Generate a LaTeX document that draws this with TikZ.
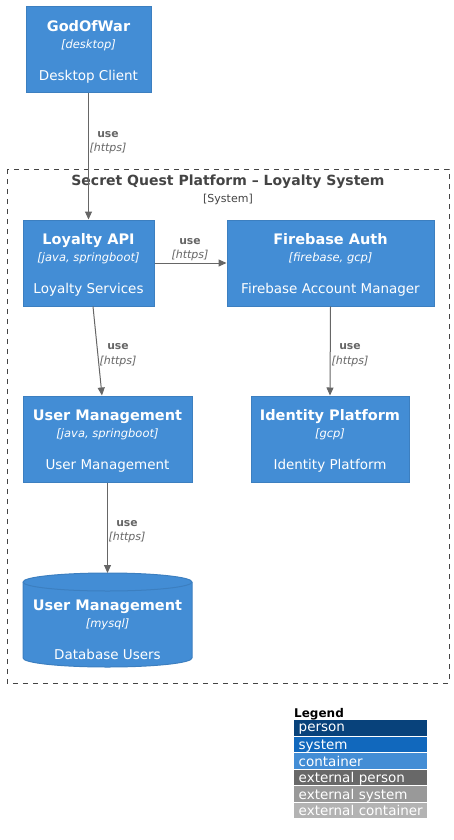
\documentclass[tikz,border=0pt]{standalone}
\usepackage{fontspec}
\setmainfont{DejaVu Sans}
\usetikzlibrary{arrows.meta}
\definecolor{cont}{HTML}{438DD5}
\definecolor{contb}{HTML}{3C7FC0}
\definecolor{pers}{HTML}{08427B}
\definecolor{syst}{HTML}{1168BD}
\definecolor{extp}{HTML}{686868}
\definecolor{exts}{HTML}{999999}
\definecolor{extc}{HTML}{B3B3B3}
\definecolor{lnk}{HTML}{666666}
\definecolor{bnd}{HTML}{444444}
\tikzset{
  cbox/.style={draw=contb, fill=cont, line width=1pt, inner sep=0pt},
  txt/.style={anchor=mid, inner sep=0pt, yshift=-2.5pt},
  ttl/.style={txt, text=white, font=\bfseries\fontsize{14.5}{17}\selectfont},
  tech/.style={txt, text=white, font=\itshape\fontsize{11.5}{14}\selectfont},
  desc/.style={txt, text=white, font=\fontsize{13.5}{16}\selectfont},
  rel/.style={draw=lnk, line width=1pt, -{Triangle[length=8pt,width=7pt]}},
  rlab/.style={txt, text=lnk, font=\bfseries\fontsize{10.8}{13}\selectfont},
  rtech/.style={txt, text=lnk, font=\itshape\fontsize{11}{13}\selectfont},
  legrow/.style={minimum width=133pt, minimum height=15.5pt, inner sep=0pt, text=white, font=\fontsize{13.5}{15}\selectfont, text depth=0pt, anchor=north west, align=left, text width=130pt},
}
\begin{document}
\begin{tikzpicture}[x=1pt,y=-1pt]
\useasboundingbox (0,0) rectangle (454,840);
% boundary
\draw[bnd, line width=1pt, dash pattern=on 5pt off 5pt] (7,169) rectangle (449,683);
\node[txt, text=bnd, font=\bfseries\fontsize{14}{17}\selectfont] (bt) at (228,180) {Secret Quest Platform – Loyalty System};
\node[txt, text=bnd, font=\fontsize{11}{13}\selectfont] (bs) at (228,197) {[System]};

% GodOfWar
\node[cbox, minimum width=125pt, minimum height=86pt] (god) at (88.5,50) {};
\node[ttl] (godt) at (88.5,26) {GodOfWar};
\node[tech] (godk) at (88.5,43) {[desktop]};
\node[desc] (godd) at (88.5,75) {Desktop Client};

% Loyalty API
\node[cbox, minimum width=131pt, minimum height=86pt] (lapi) at (88.5,263) {};
\node[ttl] (lapit) at (88.5,239) {Loyalty API};
\node[tech] (lapik) at (88.5,256) {[java, springboot]};
\node[desc] (lapid) at (88.5,288) {Loyalty Services};

% Firebase Auth
\node[cbox, minimum width=207pt, minimum height=86pt] (fb) at (330.5,263) {};
\node[ttl] (fbt) at (330.5,239) {Firebase Auth};
\node[tech] (fbk) at (330.5,256) {[firebase, gcp]};
\node[desc] (fbd) at (330.5,288) {Firebase Account Manager};

% User Management
\node[cbox, minimum width=169pt, minimum height=86pt] (um) at (107.5,439) {};
\node[ttl] (umt) at (107.5,415) {User Management};
\node[tech] (umk) at (107.5,432) {[java, springboot]};
\node[desc] (umd) at (107.5,464) {User Management};

% Identity Platform
\node[cbox, minimum width=158pt, minimum height=86pt] (idp) at (330,439) {};
\node[ttl] (idpt) at (330,415) {Identity Platform};
\node[tech] (idpk) at (330,432) {[gcp]};
\node[desc] (idpd) at (330,464) {Identity Platform};

% Database cylinder
\draw[draw=contb, fill=cont, line width=1pt]
  (23,582) arc[start angle=180, end angle=0, x radius=84.5, y radius=-9]
  -- (192,658) arc[start angle=0, end angle=-180, x radius=84.5, y radius=-9] -- cycle;
\draw[draw=contb, line width=1pt] (23,582) arc[start angle=180, end angle=360, x radius=84.5, y radius=-9];
\coordinate (db) at (107.5,573);
\node[ttl] (dbt) at (107.5,605) {User Management};
\node[tech] (dbk) at (107.5,622) {[mysql]};
\node[desc] (dbd) at (107.5,654) {Database Users};

% relations
\draw[rel] (god.south) -- (lapi.north);
\node[rlab] (l1a) at (108,132) {use};
\node[rtech] (l1b) at (108,146) {[https]};

\draw[rel] (lapi.east) -- (fb.west);
\node[rlab] (l2a) at (190,239) {use};
\node[rtech] (l2b) at (190,253) {[https]};

\draw[rel] ([xshift=4.5pt]lapi.south) -- ([xshift=-5.5pt]um.north);
\node[rlab] (l3a) at (118,344) {use};
\node[rtech] (l3b) at (118,359) {[https]};

\draw[rel] (fb.south) -- (idp.north);
\node[rlab] (l4a) at (350,344) {use};
\node[rtech] (l4b) at (350,359) {[https]};

\draw[rel] (um.south) -- (db);
\node[rlab] (l5a) at (127,521) {use};
\node[rtech] (l5b) at (127,535) {[https]};

% legend
\node[txt, font=\bfseries\fontsize{12}{14}\selectfont, anchor=mid west] (leg) at (294,712) {Legend};
\node[legrow, fill=pers] (lg1) at (294,720) {\hspace{3pt}person};
\node[legrow, fill=syst] (lg2) at (294,736.5) {\hspace{3pt}system};
\node[legrow, fill=cont] (lg3) at (294,753) {\hspace{3pt}container};
\node[legrow, fill=extp] (lg4) at (294,769.5) {\hspace{3pt}external person};
\node[legrow, fill=exts] (lg5) at (294,786) {\hspace{3pt}external system};
\node[legrow, fill=extc] (lg6) at (294,802.5) {\hspace{3pt}external container};
\end{tikzpicture}
\end{document}
